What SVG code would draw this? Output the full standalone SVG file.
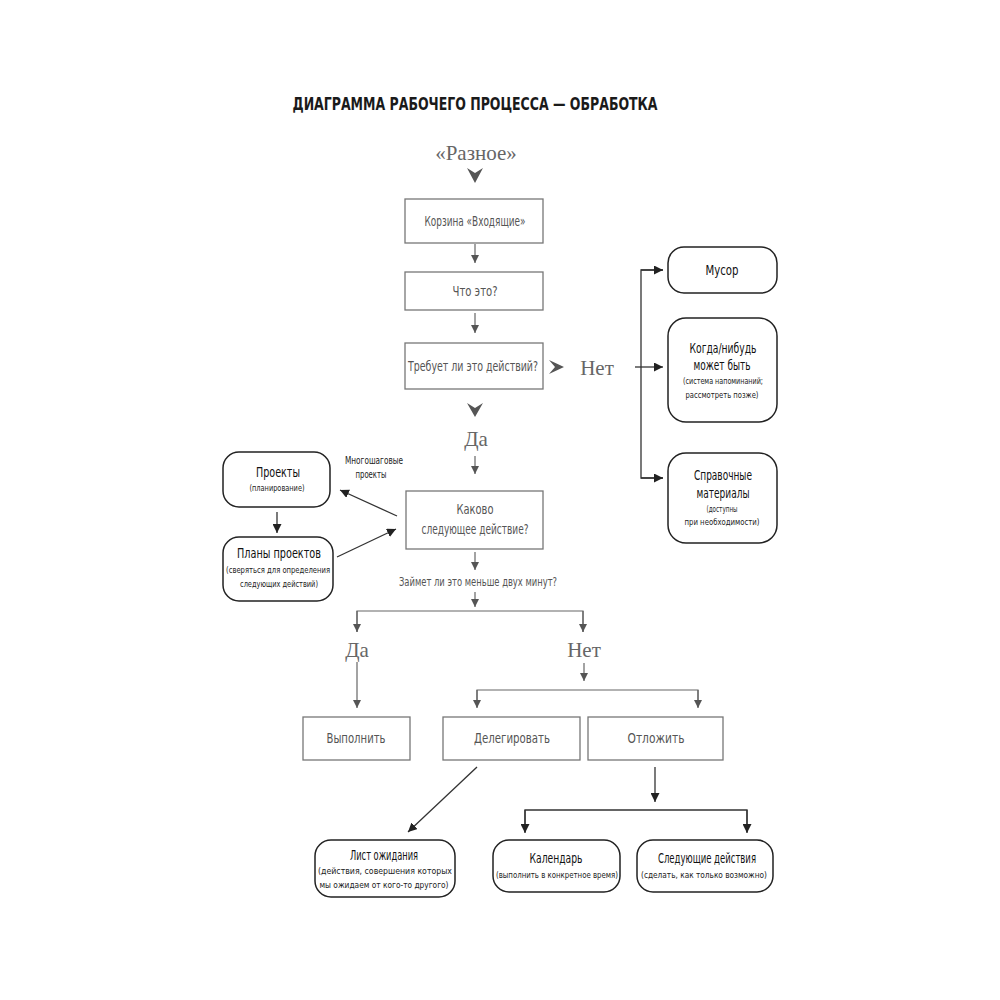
<svg xmlns="http://www.w3.org/2000/svg" width="1000" height="1000" viewBox="0 0 1000 1000">
<style>
.t{font-family:"DejaVu Sans Condensed","Liberation Sans",sans-serif;text-anchor:middle;fill:#555;font-size:13.5px}
.b{fill:#111;font-size:14px}
.s{fill:#222;font-size:9.5px}
.serif{font-family:"Liberation Serif","DejaVu Serif",serif;text-anchor:middle;fill:#666;font-size:21px}
.title{font-family:"DejaVu Sans Condensed","Liberation Sans",sans-serif;font-weight:bold;font-size:18px;fill:#1a1a1a;text-anchor:middle}
.box{fill:#fff;stroke:#777;stroke-width:1.3}
.rbox{fill:#fff;stroke:#222;stroke-width:1.5}
.c{fill:none;stroke:#666;stroke-width:1.2}
.cd{fill:none;stroke:#333;stroke-width:1.3}
.chev{fill:#555}
</style>
<defs>
<marker id="a" markerWidth="8" markerHeight="9" refX="8" refY="4" orient="auto" markerUnits="userSpaceOnUse"><path d="M0,0 L8,4 L0,8 Z" fill="#555"/></marker>
<marker id="ad" markerWidth="9" markerHeight="9" refX="9" refY="4.5" orient="auto" markerUnits="userSpaceOnUse"><path d="M0,0 L9,4.5 L0,9 Z" fill="#222"/></marker>
</defs>
<rect width="1000" height="1000" fill="#fff"/>
<text class="title" x="475" y="110" textLength="365" lengthAdjust="spacingAndGlyphs">ДИАГРАММА РАБОЧЕГО ПРОЦЕССА — ОБРАБОТКА</text>
<text class="serif" x="476" y="160">«Разное»</text>
<path class="chev" d="M467,168 L475,173 L483,168 L475,183 Z"/>

<g id="connectors">
<line class="c" x1="475" y1="244" x2="475" y2="263" marker-end="url(#a)"/>
<line class="c" x1="475" y1="313" x2="475" y2="333" marker-end="url(#a)"/>
<path class="chev" d="M549,360 L555,367 L549,374 L564,367 Z"/>
<line class="cd" x1="635" y1="367" x2="663" y2="367" marker-end="url(#ad)"/>
<polyline class="cd" points="663,270 641,270 641,478 663,478"/>
<line class="cd" x1="641" y1="270" x2="663" y2="270" marker-end="url(#ad)"/>
<line class="cd" x1="641" y1="478" x2="663" y2="478" marker-end="url(#ad)"/>
<path class="chev" d="M467,403 L475,408 L483,403 L475,417 Z"/>
<line class="c" x1="475" y1="456" x2="475" y2="474" marker-end="url(#a)"/>
<line class="c" x1="475" y1="552" x2="475" y2="570" marker-end="url(#a)"/>
<line class="c" x1="475" y1="592" x2="475" y2="607" marker-end="url(#a)"/>
<polyline class="c" points="357,632 357,611 583,611 583,632"/>
<line class="c" x1="357" y1="611" x2="357" y2="632" marker-end="url(#a)"/>
<line class="c" x1="583" y1="611" x2="583" y2="632" marker-end="url(#a)"/>
<line class="c" x1="357" y1="662" x2="357" y2="708" marker-end="url(#a)"/>
<line class="c" x1="584" y1="663" x2="584" y2="681" marker-end="url(#a)"/>
<polyline class="c" points="477,707 477,690 698,690 698,707"/>
<line class="c" x1="477" y1="690" x2="477" y2="708" marker-end="url(#a)"/>
<line class="c" x1="698" y1="690" x2="698" y2="708" marker-end="url(#a)"/>
<line class="cd" x1="477" y1="767" x2="408" y2="832" marker-end="url(#ad)"/>
<line class="cd" x1="655" y1="767" x2="655" y2="802" marker-end="url(#ad)"/>
<polyline class="cd" points="525,832 525,810 747,810 747,832"/>
<line class="cd" x1="525" y1="810" x2="525" y2="833" marker-end="url(#ad)"/>
<line class="cd" x1="747" y1="810" x2="747" y2="833" marker-end="url(#ad)"/>
<line class="cd" x1="277" y1="512" x2="277" y2="533" marker-end="url(#ad)"/>
<line class="cd" x1="397" y1="516" x2="340" y2="490" marker-end="url(#ad)"/>
<line class="cd" x1="337" y1="557" x2="396" y2="529" marker-end="url(#ad)"/>
</g>

<g id="inbox"><rect class="box" x="405" y="199" width="138" height="44"/><text class="t" x="475" y="226" textLength="101" lengthAdjust="spacingAndGlyphs">Корзина «Входящие»</text></g>
<g id="what"><rect class="box" x="405" y="272" width="138" height="38"/><text class="t" x="475" y="296" textLength="45" lengthAdjust="spacingAndGlyphs">Что это?</text></g>
<g id="action"><rect class="box" x="405" y="343" width="138" height="46"/><text class="t" x="473" y="371" textLength="130" lengthAdjust="spacingAndGlyphs">Требует ли это действий?</text></g>
<g id="no1"><text class="serif" x="597" y="375">Нет</text></g>
<g id="trash"><rect class="rbox" x="668" y="247" width="109" height="46" rx="16"/><text class="t b" x="722" y="275" textLength="33" lengthAdjust="spacingAndGlyphs">Мусор</text></g>
<g id="someday"><rect class="rbox" x="668" y="318" width="109" height="104" rx="18"/>
<text class="t b" x="723" y="353" textLength="67" lengthAdjust="spacingAndGlyphs">Когда/нибудь</text><text class="t b" x="722" y="370" textLength="57" lengthAdjust="spacingAndGlyphs">может быть</text>
<text class="t s" x="723" y="384" textLength="80" lengthAdjust="spacingAndGlyphs">(система напоминаний;</text><text class="t s" x="722" y="398" textLength="73" lengthAdjust="spacingAndGlyphs">рассмотреть позже)</text></g>
<g id="reference"><rect class="rbox" x="668" y="453" width="109" height="90" rx="18"/>
<text class="t b" x="723" y="480" textLength="58" lengthAdjust="spacingAndGlyphs">Справочные</text><text class="t b" x="723" y="498" textLength="53" lengthAdjust="spacingAndGlyphs">материалы</text>
<text class="t s" x="722" y="512" textLength="31" lengthAdjust="spacingAndGlyphs">(доступны</text><text class="t s" x="722" y="525" textLength="75" lengthAdjust="spacingAndGlyphs">при необходимости)</text></g>
<g id="yes1"><text class="serif" x="476" y="446">Да</text></g>
<g id="next"><rect class="box" x="406" y="491" width="137" height="58"/><text class="t" x="475" y="514" textLength="37" lengthAdjust="spacingAndGlyphs">Каково</text><text class="t" x="475" y="534" textLength="107" lengthAdjust="spacingAndGlyphs">следующее действие?</text></g>
<g id="twomin"><text class="t" x="478" y="586" style="font-size:12px" textLength="158" lengthAdjust="spacingAndGlyphs">Займет ли это меньше двух минут?</text></g>
<g id="multistep"><text class="t s" x="374" y="464" style="font-size:10px" textLength="58" lengthAdjust="spacingAndGlyphs">Многошаговые</text><text class="t s" x="371" y="478" style="font-size:10px" textLength="31" lengthAdjust="spacingAndGlyphs">проекты</text></g>
<g id="projects"><rect class="rbox" x="223" y="452" width="107" height="55" rx="16"/><text class="t b" x="278" y="477" textLength="44" lengthAdjust="spacingAndGlyphs">Проекты</text><text class="t s" x="277" y="491" textLength="55" lengthAdjust="spacingAndGlyphs">(планирование)</text></g>
<g id="plans"><rect class="rbox" x="223" y="537" width="110" height="64" rx="16"/><text class="t b" x="279" y="558" textLength="84" lengthAdjust="spacingAndGlyphs">Планы проектов</text>
<text class="t s" x="278" y="573" textLength="104" lengthAdjust="spacingAndGlyphs">(сверяться для определения</text><text class="t s" x="279" y="587" textLength="78" lengthAdjust="spacingAndGlyphs">следующих действий)</text></g>
<g id="yes2"><text class="serif" x="357" y="657">Да</text></g>
<g id="no2"><text class="serif" x="584" y="657">Нет</text></g>
<g id="do"><rect class="box" x="303" y="717" width="107" height="43"/><text class="t" x="356" y="743" textLength="59" lengthAdjust="spacingAndGlyphs">Выполнить</text></g>
<g id="delegate"><rect class="box" x="443" y="717" width="137" height="43"/><text class="t" x="512" y="743" textLength="76" lengthAdjust="spacingAndGlyphs">Делегировать</text></g>
<g id="defer"><rect class="box" x="588" y="717" width="135" height="43"/><text class="t" x="656" y="743" textLength="57" lengthAdjust="spacingAndGlyphs">Отложить</text></g>
<g id="waiting"><rect class="rbox" x="315" y="840" width="140" height="57" rx="16"/><text class="t b" x="384" y="860" textLength="68" lengthAdjust="spacingAndGlyphs">Лист ожидания</text>
<text class="t s" x="385" y="874" textLength="134" lengthAdjust="spacingAndGlyphs">(действия, совершения которых</text><text class="t s" x="384" y="888" textLength="129" lengthAdjust="spacingAndGlyphs">мы ожидаем от кого-то другого)</text></g>
<g id="calendar"><rect class="rbox" x="493" y="840" width="127" height="52" rx="16"/><text class="t b" x="556" y="863" textLength="53" lengthAdjust="spacingAndGlyphs">Календарь</text><text class="t s" x="557" y="878" textLength="122" lengthAdjust="spacingAndGlyphs">(выполнить в конкретное время)</text></g>
<g id="nextactions"><rect class="rbox" x="637" y="840" width="136" height="52" rx="16"/><text class="t b" x="707" y="863" textLength="98" lengthAdjust="spacingAndGlyphs">Следующие действия</text><text class="t s" x="704" y="878" textLength="126" lengthAdjust="spacingAndGlyphs">(сделать, как только возможно)</text></g>
</svg>
